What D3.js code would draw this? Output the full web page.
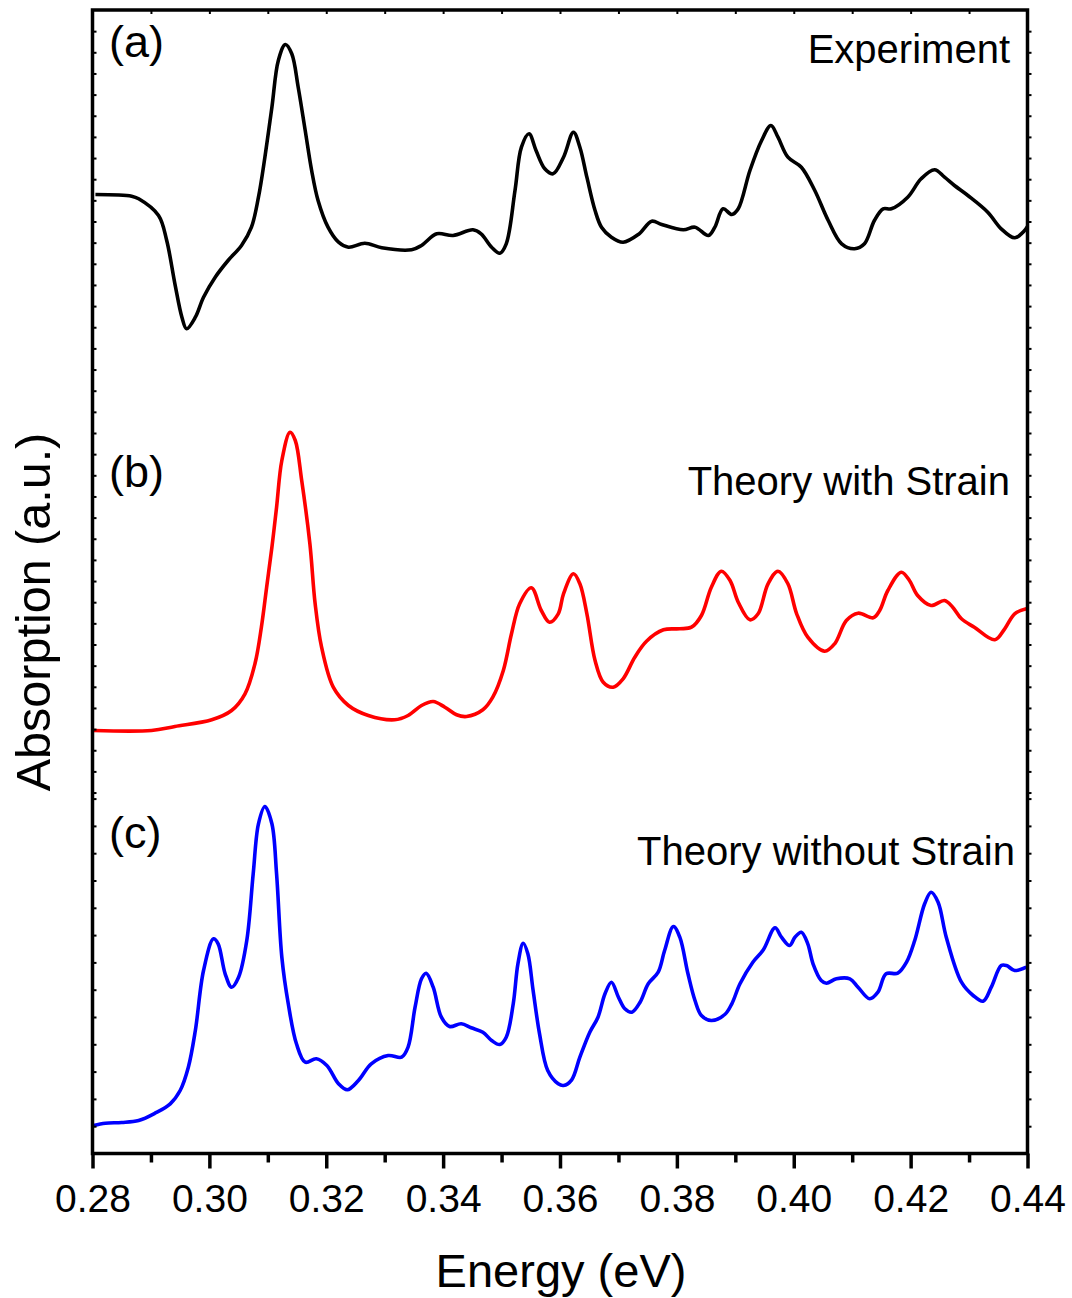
<!DOCTYPE html>
<html>
<head>
<meta charset="utf-8">
<script src="https://cdn.jsdelivr.net/npm/d3@7"></script>
<style>
  html, body { margin: 0; padding: 0; background: #fff; }
  svg { display: block; }
  text { font-family: "Liberation Sans", Arial, Helvetica, sans-serif; fill: #000; }
</style>
</head>
<body>
<svg id="chart" width="1072" height="1298"></svg>
<script>
// Absorption spectra, stacked with vertical offsets (arbitrary units).
// Each row: [energy (eV), absorption (a.u.)]
const experiment = [
  [0.2805, 9.590], [0.2867, 9.573], [0.2879, 9.547], [0.2913, 9.380], [0.2927, 9.130],
  [0.2941, 8.697], [0.2953, 8.363], [0.2961, 8.247], [0.2976, 8.363], [0.2990, 8.563],
  [0.3010, 8.763], [0.3032, 8.930], [0.3055, 9.080], [0.3072, 9.263], [0.3084, 9.563],
  [0.3095, 9.963], [0.3107, 10.463], [0.3118, 10.930], [0.3130, 11.090], [0.3141, 10.997],
  [0.3152, 10.663], [0.3164, 10.230], [0.3175, 9.830], [0.3186, 9.530], [0.3203, 9.263],
  [0.3221, 9.113], [0.3238, 9.063], [0.3266, 9.103], [0.3295, 9.057], [0.3346, 9.037],
  [0.3363, 9.080], [0.3389, 9.197], [0.3417, 9.180], [0.3451, 9.237], [0.3465, 9.197],
  [0.3483, 9.063], [0.3497, 9.003], [0.3508, 9.097], [0.3523, 9.630], [0.3534, 10.063],
  [0.3547, 10.197], [0.3559, 10.030], [0.3574, 9.847], [0.3588, 9.797], [0.3606, 9.963],
  [0.3623, 10.213], [0.3634, 10.063], [0.3646, 9.763], [0.3660, 9.430], [0.3671, 9.263],
  [0.3688, 9.163], [0.3708, 9.113], [0.3734, 9.190], [0.3757, 9.323], [0.3774, 9.290],
  [0.3811, 9.237], [0.3831, 9.263], [0.3854, 9.180], [0.3865, 9.263], [0.3879, 9.447],
  [0.3894, 9.390], [0.3905, 9.447], [0.3925, 9.830], [0.3945, 10.130], [0.3961, 10.280],
  [0.3973, 10.163], [0.3990, 9.963], [0.4013, 9.863], [0.4036, 9.630], [0.4059, 9.330],
  [0.4082, 9.097], [0.4104, 9.047], [0.4121, 9.097], [0.4138, 9.330], [0.4153, 9.447],
  [0.4167, 9.447], [0.4195, 9.563], [0.4218, 9.747], [0.4241, 9.837], [0.4258, 9.763],
  [0.4275, 9.680], [0.4298, 9.580], [0.4332, 9.413], [0.4355, 9.247], [0.4378, 9.157],
  [0.4395, 9.230], [0.4400, 9.270]
];

const theoryStrain = [
  [0.2802, 4.230], [0.2901, 4.230], [0.2941, 4.270], [0.3004, 4.337], [0.3038, 4.430],
  [0.3061, 4.597], [0.3078, 4.897], [0.3089, 5.263], [0.3098, 5.663], [0.3107, 6.063],
  [0.3115, 6.463], [0.3124, 6.930], [0.3138, 7.213], [0.3147, 7.130], [0.3158, 6.730],
  [0.3172, 6.097], [0.3181, 5.497], [0.3192, 5.063], [0.3212, 4.663], [0.3238, 4.480],
  [0.3272, 4.380], [0.3317, 4.337], [0.3340, 4.380], [0.3363, 4.480], [0.3383, 4.520],
  [0.3403, 4.463], [0.3423, 4.387], [0.3440, 4.370], [0.3468, 4.437], [0.3485, 4.563],
  [0.3503, 4.830], [0.3517, 5.197], [0.3531, 5.497], [0.3551, 5.657], [0.3568, 5.430],
  [0.3582, 5.313], [0.3597, 5.397], [0.3606, 5.597], [0.3623, 5.797], [0.3634, 5.697],
  [0.3646, 5.397], [0.3660, 4.930], [0.3674, 4.713], [0.3691, 4.663], [0.3708, 4.747],
  [0.3728, 4.963], [0.3748, 5.123], [0.3777, 5.237], [0.3805, 5.247], [0.3825, 5.263],
  [0.3842, 5.380], [0.3859, 5.663], [0.3876, 5.823], [0.3891, 5.730], [0.3905, 5.513],
  [0.3925, 5.337], [0.3939, 5.397], [0.3956, 5.697], [0.3973, 5.823], [0.3990, 5.697],
  [0.4005, 5.397], [0.4024, 5.163], [0.4053, 5.023], [0.4070, 5.097], [0.4090, 5.330],
  [0.4110, 5.403], [0.4136, 5.357], [0.4147, 5.430], [0.4161, 5.630], [0.4184, 5.813],
  [0.4198, 5.730], [0.4212, 5.580], [0.4235, 5.480], [0.4258, 5.530], [0.4272, 5.463],
  [0.4287, 5.347], [0.4309, 5.263], [0.4344, 5.137], [0.4361, 5.247], [0.4378, 5.397],
  [0.4398, 5.447]
];

const theoryNoStrain = [
  [0.2802, 0.280], [0.2822, 0.303], [0.2850, 0.310], [0.2879, 0.330], [0.2907, 0.403],
  [0.2933, 0.497], [0.2950, 0.630], [0.2964, 0.863], [0.2976, 1.230], [0.2990, 1.830],
  [0.3007, 2.147], [0.3015, 2.097], [0.3027, 1.797], [0.3038, 1.663], [0.3050, 1.763],
  [0.3064, 2.130], [0.3075, 2.797], [0.3084, 3.297], [0.3095, 3.470], [0.3107, 3.297],
  [0.3115, 2.797], [0.3124, 1.963], [0.3135, 1.497], [0.3149, 1.097], [0.3164, 0.913],
  [0.3183, 0.947], [0.3201, 0.880], [0.3221, 0.697], [0.3236, 0.637], [0.3255, 0.730],
  [0.3277, 0.897], [0.3306, 0.980], [0.3329, 0.963], [0.3340, 1.063], [0.3352, 1.463],
  [0.3363, 1.747], [0.3371, 1.803], [0.3383, 1.663], [0.3397, 1.363], [0.3411, 1.270],
  [0.3431, 1.297], [0.3448, 1.257], [0.3468, 1.213], [0.3483, 1.130], [0.3497, 1.090],
  [0.3508, 1.163], [0.3520, 1.497], [0.3528, 1.897], [0.3537, 2.103], [0.3545, 1.997],
  [0.3554, 1.630], [0.3565, 1.197], [0.3579, 0.830], [0.3597, 0.697], [0.3606, 0.680],
  [0.3620, 0.737], [0.3634, 0.963], [0.3651, 1.213], [0.3665, 1.363], [0.3677, 1.597],
  [0.3688, 1.713], [0.3700, 1.563], [0.3711, 1.447], [0.3723, 1.413], [0.3737, 1.513],
  [0.3751, 1.697], [0.3768, 1.813], [0.3779, 2.030], [0.3794, 2.270], [0.3805, 2.163],
  [0.3819, 1.797], [0.3831, 1.530], [0.3842, 1.380], [0.3859, 1.330], [0.3882, 1.390],
  [0.3894, 1.497], [0.3908, 1.697], [0.3930, 1.913], [0.3948, 2.037], [0.3968, 2.257],
  [0.3979, 2.163], [0.3993, 2.080], [0.4002, 2.163], [0.4013, 2.213], [0.4024, 2.097],
  [0.4033, 1.897], [0.4047, 1.730], [0.4056, 1.703], [0.4073, 1.747], [0.4096, 1.747],
  [0.4110, 1.663], [0.4130, 1.547], [0.4144, 1.613], [0.4158, 1.797], [0.4178, 1.803],
  [0.4193, 1.913], [0.4207, 2.130], [0.4224, 2.497], [0.4235, 2.613], [0.4247, 2.513],
  [0.4261, 2.163], [0.4287, 1.713], [0.4307, 1.580], [0.4324, 1.523], [0.4338, 1.663],
  [0.4355, 1.880], [0.4364, 1.880], [0.4378, 1.830], [0.4398, 1.863]
];

const majorTicks = [0.28, 0.30, 0.32, 0.34, 0.36, 0.38, 0.40, 0.42, 0.44];
const minorTicks = [0.29, 0.31, 0.33, 0.35, 0.37, 0.39, 0.41, 0.43];

const series = [
  { data: experiment,     color: "#000000", tag: "(a)", name: "Experiment",            tagY: 57,  nameY: 63,  nameX: 1010 },
  { data: theoryStrain,   color: "#ff0000", tag: "(b)", name: "Theory with Strain",    tagY: 487, nameY: 495, nameX: 1010 },
  { data: theoryNoStrain, color: "#0000ff", tag: "(c)", name: "Theory without Strain", tagY: 848, nameY: 865, nameX: 1015 }
];

const frame = { left: 92.5, right: 1027.5, top: 10, bottom: 1153.5 };

const svg = d3.select("#chart");

const x = d3.scaleLinear().domain([0.28, 0.44]).range([frame.left, frame.right]);
const y = d3.scaleLinear().domain([0, 11.435]).range([frame.bottom, frame.top]);

// Spectra
const line = d3.line()
  .x(d => x(d[0]))
  .y(d => y(d[1]))
  .curve(d3.curveCatmullRom.alpha(0.5));

const plot = svg.append("g");
plot.append("clipPath").attr("id", "clip")
  .append("rect")
  .attr("x", frame.left).attr("y", frame.top)
  .attr("width", frame.right - frame.left).attr("height", frame.bottom - frame.top);

plot.selectAll("path.spectrum")
  .data(series)
  .join("path")
  .attr("class", "spectrum")
  .attr("clip-path", "url(#clip)")
  .attr("fill", "none")
  .attr("stroke", d => d.color)
  .attr("stroke-width", 3.6)
  .attr("stroke-linejoin", "round")
  .attr("d", d => line(d.data));

// Bottom axis: major ticks with labels, minor ticks without
const xAxis = svg.append("g").attr("transform", `translate(0,${frame.bottom})`);
xAxis.call(d3.axisBottom(x).tickValues(majorTicks).tickSize(15).tickFormat(d3.format(".2f")))
  .call(g => g.select(".domain").remove())
  .call(g => g.selectAll(".tick line").attr("stroke", "#000").attr("stroke-width", 3.5))
  .call(g => g.selectAll(".tick text")
    .attr("y", 58).attr("dy", null)
    .attr("font-size", 39)
    .attr("font-family", "'Liberation Sans', Arial, sans-serif"));

svg.append("g").attr("transform", `translate(0,${frame.bottom})`)
  .call(d3.axisBottom(x).tickValues(minorTicks).tickSize(9).tickFormat(""))
  .call(g => g.select(".domain").remove())
  .call(g => g.selectAll(".tick line").attr("stroke", "#000").attr("stroke-width", 3.5));

// Top axis: small inward ticks
svg.append("g").attr("transform", `translate(0,${frame.top})`)
  .call(d3.axisBottom(x).tickValues(majorTicks.concat(minorTicks)).tickSize(4).tickFormat(""))
  .call(g => g.select(".domain").remove())
  .call(g => g.selectAll(".tick line").attr("stroke", "#000").attr("stroke-width", 2));

// Vertical axes: unlabeled tick marks, finer spacing for the upper panels
const upperTicks = d3.scaleLinear().domain([0, 37]).range([frame.top, frame.top + 37 * 21.15]);
const lowerTicks = d3.scaleLinear().domain([0, 13]).range([frame.bottom, frame.bottom - 13 * 27.3]);

function yTicks(scale, n) {
  const vals = d3.range(1, n + 1);
  svg.append("g").attr("transform", `translate(${frame.left},0)`)
    .call(d3.axisRight(scale).tickValues(vals).tickSize(4).tickFormat(""))
    .call(g => g.select(".domain").remove())
    .call(g => g.selectAll(".tick line").attr("stroke", "#000").attr("stroke-width", 2));
  svg.append("g").attr("transform", `translate(${frame.right},0)`)
    .call(d3.axisRight(scale).tickValues(vals).tickSize(4).tickFormat(""))
    .call(g => g.select(".domain").remove())
    .call(g => g.selectAll(".tick line").attr("stroke", "#000").attr("stroke-width", 2));
}
yTicks(upperTicks, 37);
yTicks(lowerTicks, 13);

// Frame
svg.append("rect")
  .attr("x", frame.left).attr("y", frame.top)
  .attr("width", frame.right - frame.left).attr("height", frame.bottom - frame.top)
  .attr("fill", "none").attr("stroke", "#000").attr("stroke-width", 3.5);

// Panel tags and names
svg.selectAll("text.tag")
  .data(series)
  .join("text")
  .attr("class", "tag")
  .attr("x", 109).attr("y", d => d.tagY)
  .attr("font-size", 45)
  .text(d => d.tag);

svg.selectAll("text.name")
  .data(series)
  .join("text")
  .attr("class", "name")
  .attr("x", d => d.nameX).attr("y", d => d.nameY)
  .attr("text-anchor", "end")
  .attr("font-size", 40)
  .text(d => d.name);

// Axis titles
svg.append("text")
  .attr("x", 561).attr("y", 1287)
  .attr("text-anchor", "middle")
  .attr("font-size", 47)
  .text("Energy (eV)");

svg.append("text")
  .attr("transform", `translate(50,612) rotate(-90)`)
  .attr("text-anchor", "middle")
  .attr("font-size", 48.5)
  .text("Absorption (a.u.)");
</script>
</body>
</html>
